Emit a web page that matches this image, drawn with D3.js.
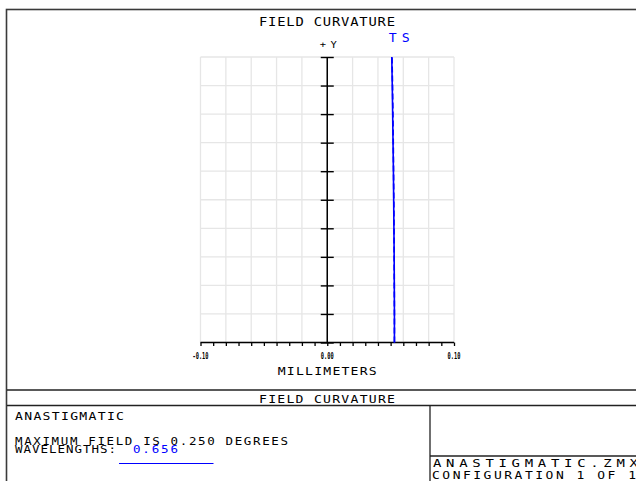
<!DOCTYPE html>
<html>
<head>
<meta charset="utf-8">
<script src="https://cdn.jsdelivr.net/npm/d3@7"></script>
<style>
  html, body { margin: 0; padding: 0; background: #fff; }
  svg text { font-family: "DejaVu Sans Mono", "Liberation Mono", monospace; }
</style>
</head>
<body>
<div id="wrapper"></div>
<script>
// relative field (0 = axis, 1 = +Y max field of 0.25 deg)
var fields = [0, 0.1, 0.2, 0.3, 0.4, 0.5, 0.6, 0.7, 0.8, 0.9, 1.0];
// focus shift in mm, tangential and sagittal, 0.656 um
var tangential = [0.0530, 0.0530, 0.0529, 0.0528, 0.0526, 0.0524, 0.0522, 0.0519, 0.0516, 0.0513, 0.0509];
var sagittal   = [0.0530, 0.0530, 0.0529, 0.0528, 0.0527, 0.0525, 0.0523, 0.0521, 0.0518, 0.0515, 0.0511];
var xTickLabels = ["-0.10", "0.00", "0.10"];
var xTickValues = [-0.1, 0, 0.1];

var width = 636;
var height = 481;
var dimensions = {
    width: width,
    height: height,
    margin: { top: 57, right: 182, bottom: 138.5, left: 200.5 }
};
dimensions.boundedWidth = dimensions.width - dimensions.margin.left - dimensions.margin.right;
dimensions.boundedHeight = dimensions.height - dimensions.margin.top - dimensions.margin.bottom;

var wrapper = d3.select('#wrapper')
    .append('svg')
    .attr('width', dimensions.width)
    .attr('height', dimensions.height);

// stroke-font look: wide glyphs, fixed total width
function label(parent, x, y, str, size, len, anchor, stretch) {
    var sx = stretch || 1.25;
    var g = parent.append('g')
        .attr('transform', 'translate(' + x + ',' + y + ') scale(' + sx + ',1)');
    return g.append('text')
        .attr('x', 0).attr('y', 0)
        .attr('text-anchor', anchor || 'start')
        .attr('textLength', len / sx)
        .attr('lengthAdjust', 'spacing')
        .style('font-size', size + 'px')
        .text(str);
}

// outer frame
wrapper.append('rect')
    .attr('x', 6.5).attr('y', 9.5)
    .attr('width', 640).attr('height', 480)
    .attr('fill', 'none')
    .attr('stroke', '#3a3a3a')
    .attr('stroke-width', 1.6);

label(wrapper, 327, 26, 'FIELD CURVATURE', 12, 136, 'middle', 1.15);

var bounds = wrapper.append('g')
    .attr('transform', 'translate(' + dimensions.margin.left + ',' + dimensions.margin.top + ')');

var xScale = d3.scaleLinear()
    .domain([-0.1, 0.1])
    .range([0, dimensions.boundedWidth]);

var yScale = d3.scaleLinear()
    .domain([0, 1])
    .range([dimensions.boundedHeight, 0]);

// grid
var gridX = d3.range(-0.1, 0.1001, 0.02);
var gridY = d3.range(0, 1.0001, 0.1);
bounds.append('g').selectAll('line')
    .data(gridX)
    .enter().append('line')
    .attr('x1', function (d) { return xScale(d); })
    .attr('x2', function (d) { return xScale(d); })
    .attr('y1', 0).attr('y2', dimensions.boundedHeight)
    .attr('stroke', '#e6e6e6').attr('stroke-width', 1.3);
bounds.append('g').selectAll('line')
    .data(gridY)
    .enter().append('line')
    .attr('x1', 0).attr('x2', dimensions.boundedWidth)
    .attr('y1', function (d) { return yScale(d); })
    .attr('y2', function (d) { return yScale(d); })
    .attr('stroke', '#e6e6e6').attr('stroke-width', 1.3);

// bottom axis with small ticks every 0.01
var xAxisGenerator = d3.axisBottom(xScale)
    .tickValues(d3.range(-0.1, 0.1001, 0.01))
    .tickSize(3.5)
    .tickFormat('');
var xAxis = bounds.append('g')
    .attr('transform', 'translate(0,' + dimensions.boundedHeight + ')')
    .call(xAxisGenerator);
xAxis.select('.domain').attr('stroke', '#000').attr('stroke-width', 1.5).attr('d', 'M0,0H' + dimensions.boundedWidth);
xAxis.selectAll('.tick line').attr('stroke', '#000').attr('stroke-width', 1.3);

bounds.append('g').selectAll('text')
    .data(xTickValues)
    .enter().append('text')
    .attr('x', function (d) { return xScale(d); })
    .attr('y', dimensions.boundedHeight + 16.5)
    .attr('text-anchor', 'middle')
    .attr('textLength', function (d, i) { return xTickLabels[i].length * 3.2; })
    .attr('lengthAdjust', 'spacingAndGlyphs')
    .style('font-weight', 'bold')
    .style('font-size', '8px')
    .text(function (d, i) { return xTickLabels[i]; });

label(bounds, xScale(0), dimensions.boundedHeight + 32.5, 'MILLIMETERS', 10.5, 99, 'middle');

// center field axis
var yAxisGenerator = d3.axisRight(yScale)
    .tickValues(gridY)
    .tickSize(6.5)
    .tickFormat('');
var yAxis = bounds.append('g')
    .attr('transform', 'translate(' + xScale(0) + ',0)')
    .call(yAxisGenerator);
yAxis.select('.domain').attr('stroke', '#000').attr('stroke-width', 1.5).attr('d', 'M0,0V' + dimensions.boundedHeight);
yAxis.selectAll('.tick line')
    .attr('x1', -6.5)
    .attr('stroke', '#000').attr('stroke-width', 1.4);

label(bounds, xScale(0) - 7.5, -8.7, '+Y', 9.5, 17, 'start', 1.1);

// curves
var line = d3.line()
    .x(function (d) { return xScale(d[1]); })
    .y(function (d) { return yScale(d[0]); });

bounds.append('path')
    .datum(d3.zip(fields, sagittal))
    .attr('d', line)
    .attr('fill', 'none')
    .attr('stroke', '#0000ff')
    .attr('stroke-width', 1.6)
    .attr('stroke-dasharray', '6 3');
bounds.append('path')
    .datum(d3.zip(fields, tangential))
    .attr('d', line)
    .attr('fill', 'none')
    .attr('stroke', '#0000ff')
    .attr('stroke-width', 1.6);

label(bounds, xScale(tangential[tangential.length - 1]) - 3, -15, 'T S', 12, 21, 'start', 1.1)
    .attr('fill', '#0000ff');

// info box at the bottom
var box = wrapper.append('g')
    .attr('fill', 'none')
    .attr('stroke', '#222')
    .attr('stroke-width', 1.3);
box.append('line').attr('x1', 7).attr('x2', 636).attr('y1', 390).attr('y2', 390);
box.append('line').attr('x1', 7).attr('x2', 636).attr('y1', 405.5).attr('y2', 405.5);
box.append('line').attr('x1', 430).attr('x2', 430).attr('y1', 405.5).attr('y2', 481);
box.append('line').attr('x1', 430).attr('x2', 636).attr('y1', 456).attr('y2', 456);

label(wrapper, 327, 403, 'FIELD CURVATURE', 10.5, 136, 'middle');

label(wrapper, 15, 420, 'ANASTIGMATIC', 10.5, 109);
label(wrapper, 15, 445, 'MAXIMUM FIELD IS 0.250 DEGREES', 10, 273);
label(wrapper, 15, 453, 'WAVELENGTHS:', 10, 101);
label(wrapper, 133, 453, '0.656', 10, 45).attr('fill', '#0000ff');
wrapper.append('line')
    .attr('x1', 119).attr('x2', 213.5)
    .attr('y1', 463.5).attr('y2', 463.5)
    .attr('stroke', '#0000ff').attr('stroke-width', 1.2);

label(wrapper, 433, 466.5, 'ANASTIGMATIC.ZMX', 10, 205, 'start', 1.4);
label(wrapper, 432, 478.5, 'CONFIGURATION 1 OF 1', 10, 204, 'start', 1.3);
</script>
</body>
</html>
